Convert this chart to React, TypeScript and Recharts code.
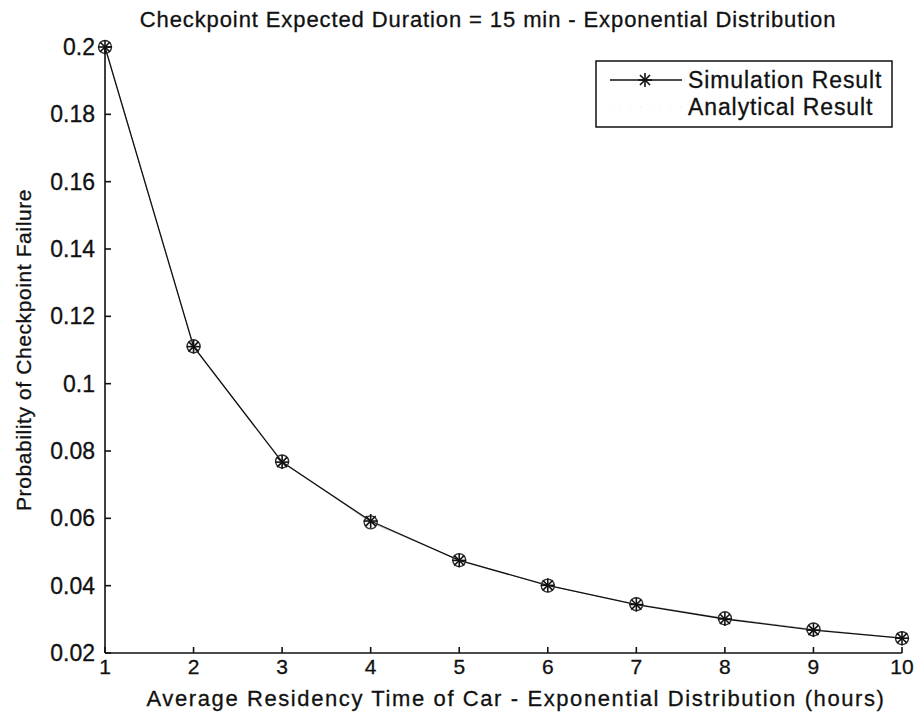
import { Label, Line, LineChart, XAxis, YAxis } from "recharts"

const hours = [1, 2, 3, 4, 5, 6, 7, 8, 9, 10]
const simulation = [0.2, 0.111, 0.0767, 0.0592, 0.0475, 0.0401, 0.0344, 0.0301, 0.0268, 0.0244]
const analytical = [0.2, 0.1111, 0.0769, 0.0588, 0.0476, 0.04, 0.0345, 0.0303, 0.027, 0.0244]
const xTicks = [1, 2, 3, 4, 5, 6, 7, 8, 9, 10]
const yTicks = [0.02, 0.04, 0.06, 0.08, 0.1, 0.12, 0.14, 0.16, 0.18, 0.2]

const data = hours.map((h, i) => ({ h, sim: simulation[i], ana: analytical[i] }))

const font = "'Liberation Sans', Arial, sans-serif"
const ink = "#111"
const textStyle = { fontFamily: font, fill: ink, stroke: ink, strokeWidth: 0.3 }

function Star(props: any) {
  const { cx, cy } = props
  if (cx == null || cy == null) return <g />
  const r = 7
  const d = r * 0.72
  return (
    <g stroke={ink} strokeWidth={1.6}>
      <line x1={cx - r} y1={cy} x2={cx + r} y2={cy} />
      <line x1={cx} y1={cy - r} x2={cx} y2={cy + r} />
      <line x1={cx - d} y1={cy - d} x2={cx + d} y2={cy + d} />
      <line x1={cx - d} y1={cy + d} x2={cx + d} y2={cy - d} />
    </g>
  )
}

function Ring(props: any) {
  const { cx, cy } = props
  if (cx == null || cy == null) return <g />
  return <circle cx={cx} cy={cy} r={6.5} fill="none" stroke="#333" strokeWidth={1.4} />
}

// legend drawn on top of the chart, like the MATLAB box
function LegendBox() {
  return (
    <svg
      width={298}
      height={68}
      style={{ position: "absolute", left: 595, top: 60, display: "block" }}
    >
      <rect x={1} y={1} width={296} height={66} fill="#fff" stroke={ink} strokeWidth={1.5} />
      <line x1={15} y1={20} x2={87} y2={20} stroke={ink} strokeWidth={1.3} />
      <Star cx={50} cy={20} />
      <text x={93} y={28} fontSize={23} letterSpacing={0.9} {...textStyle}>
        Simulation Result
      </text>
      <line x1={15} y1={47} x2={87} y2={47} stroke="#e4e4e4" strokeWidth={1} strokeDasharray="1 9" />
      <text x={93} y={55} fontSize={23} letterSpacing={0.9} {...textStyle}>
        Analytical Result
      </text>
    </svg>
  )
}

export default function App() {
  return (
    <div style={{ position: "absolute", left: 0, top: 0, width: 919, height: 717, background: "#fff" }}>
      <LineChart width={919} height={717} data={data} margin={{ top: 47, right: 17, left: 0, bottom: 0 }}>
        <text x={488} y={27} textAnchor="middle" fontSize={22} letterSpacing={0.9} {...textStyle}>
          Checkpoint Expected Duration = 15 min - Exponential Distribution
        </text>
        <XAxis
          dataKey="h"
          type="number"
          domain={[1, 10]}
          ticks={xTicks}
          height={64}
          stroke={ink}
          strokeWidth={1.6}
          tickSize={-6}
          tickMargin={12}
          tick={{ ...textStyle, fontSize: 21 }}
        >
          <Label
            content={() => (
              <text x={516} y={706} textAnchor="middle" fontSize={22} letterSpacing={1.6} {...textStyle}>
                Average Residency Time of Car - Exponential Distribution (hours)
              </text>
            )}
          />
        </XAxis>
        <XAxis
          xAxisId="top"
          orientation="top"
          type="number"
          domain={[1, 10]}
          allowDataOverflow
          ticks={xTicks}
          height={0}
          stroke={ink}
          strokeWidth={1.6}
          tickSize={-6}
          tick={{ fill: "none" }}
        />
        <YAxis
          type="number"
          domain={[0.02, 0.2]}
          ticks={yTicks}
          width={105}
          stroke={ink}
          strokeWidth={1.6}
          tickSize={-6}
          tickMargin={16}
          tick={{ ...textStyle, fontSize: 23 }}
        >
          <Label
            content={() => (
              <text
                x={31}
                y={350}
                textAnchor="middle"
                transform="rotate(-90 31 350)"
                fontSize={21}
                letterSpacing={0.6}
                {...textStyle}
              >
                Probability of Checkpoint Failure
              </text>
            )}
          />
        </YAxis>
        <YAxis
          yAxisId="right"
          orientation="right"
          type="number"
          domain={[0.02, 0.2]}
          allowDataOverflow
          ticks={yTicks}
          width={0}
          stroke={ink}
          strokeWidth={1.6}
          tickSize={-6}
          tick={{ fill: "none" }}
        />
        <Line
          dataKey="ana"
          name="Analytical Result"
          stroke="#bbb"
          strokeWidth={1}
          dot={<Ring />}
          activeDot={false}
          isAnimationActive={false}
        />
        <Line
          dataKey="sim"
          name="Simulation Result"
          stroke={ink}
          strokeWidth={1.3}
          dot={<Star />}
          activeDot={false}
          isAnimationActive={false}
        />
      </LineChart>
      <LegendBox />
    </div>
  )
}
